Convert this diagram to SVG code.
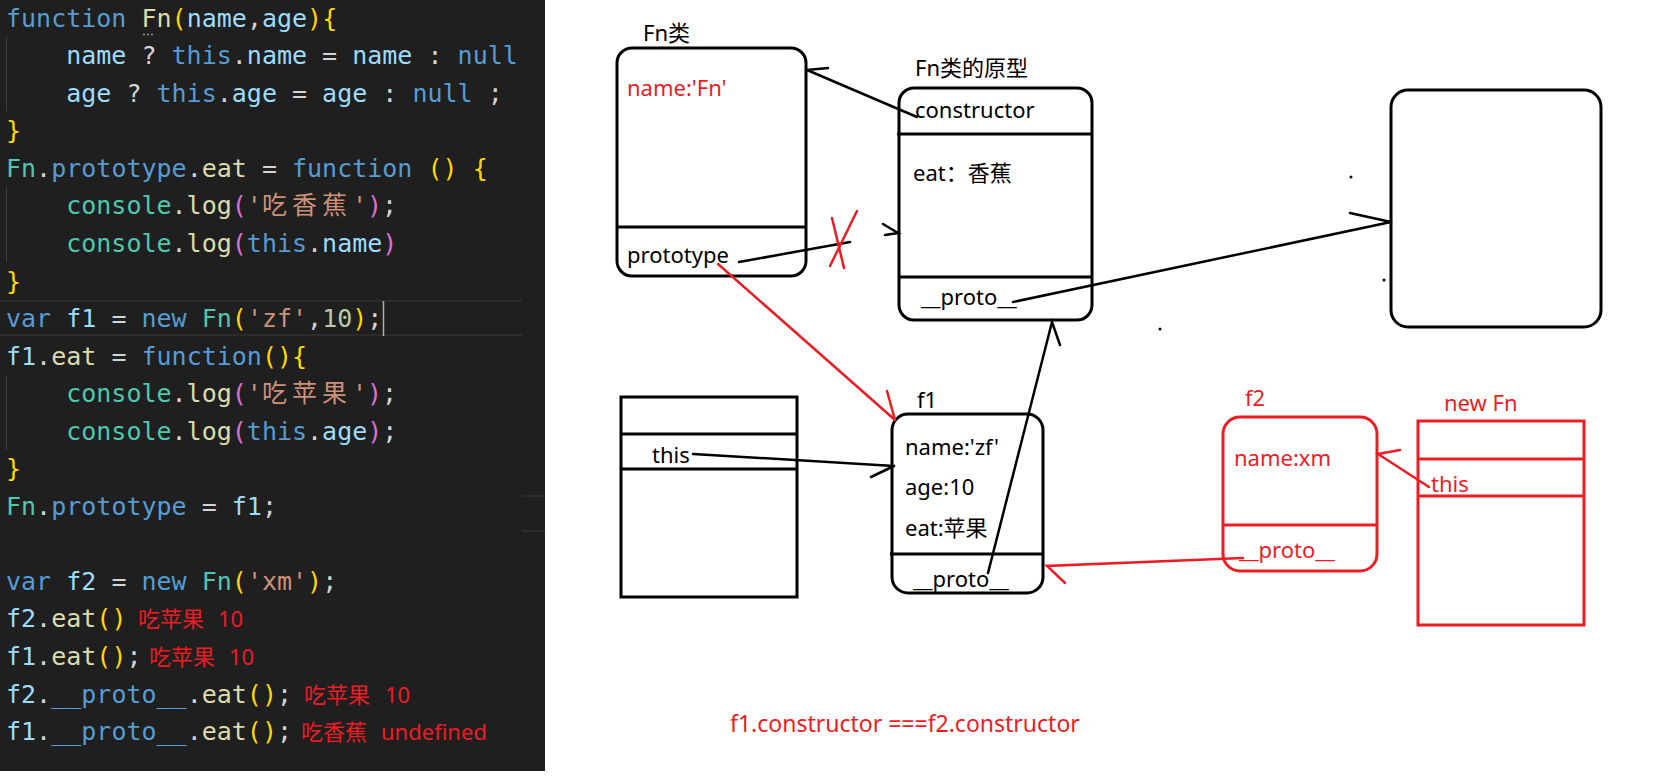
<svg xmlns="http://www.w3.org/2000/svg" width="1654" height="784" viewBox="0 0 1654 784">
<style>
.code{font-family:"DejaVu Sans Mono","Noto Sans CJK SC",monospace;font-size:25px;fill:#D4D4D4}
.k{fill:#569CD6}.v{fill:#9CDCFE}.f{fill:#DCDCAA}.c{fill:#4EC9B0}.s{fill:#CE9178}.n{fill:#B5CEA8}.y{fill:#FFD700}.m{fill:#DA70D6}
.z{letter-spacing:5px}
.note{font-family:"Noto Sans","Noto Sans CJK SC",sans-serif;font-size:22px;fill:#ED1C24}
.lbl{font-family:"Noto Sans","Noto Sans CJK SC",sans-serif;font-size:22px;fill:#000}
.red{fill:#ED1C24}
.box{fill:none;stroke:#000;stroke-width:3}
.rbox{fill:none;stroke:#ED1C24;stroke-width:3}
.ln{stroke:#000;stroke-width:2.5;fill:none;stroke-linecap:round}
.rln{stroke:#ED1C24;stroke-width:2.5;fill:none;stroke-linecap:round}
.guide{stroke:#404040;stroke-width:1}
</style>
<rect x="0" y="0" width="1654" height="784" fill="#fff"/>
<g id="code-panel">
<rect x="0" y="0" width="545" height="771" fill="#1F1F1F"/>
<line x1="0" y1="301" x2="522" y2="301" stroke="#2C2C2C" stroke-width="2"/>
<line x1="0" y1="335" x2="522" y2="335" stroke="#2C2C2C" stroke-width="2"/>
<line x1="522" y1="496" x2="545" y2="496" stroke="#2C2C2C" stroke-width="2"/>
<line x1="522" y1="531" x2="545" y2="531" stroke="#2C2C2C" stroke-width="2"/>
<line class="guide" x1="6.5" y1="37" x2="6.5" y2="111"/>
<line class="guide" x1="6.5" y1="187" x2="6.5" y2="262"/>
<line class="guide" x1="6.5" y1="375" x2="6.5" y2="450"/>
<line x1="383.5" y1="301" x2="383.5" y2="336" stroke="#AEAFAD" stroke-width="1.5"/>
<circle cx="144" cy="34.5" r="0.9" fill="#A0A0A0"/><circle cx="148" cy="34.5" r="0.9" fill="#A0A0A0"/><circle cx="152" cy="34.5" r="0.9" fill="#A0A0A0"/>
<text class="code" x="6" y="26.7"><tspan class="k">function</tspan> <tspan class="f">Fn</tspan><tspan class="y">(</tspan><tspan class="v">name</tspan>,<tspan class="v">age</tspan><tspan class="y">){</tspan></text>
<text class="code" x="66.2" y="64.2"><tspan class="v">name</tspan> ? <tspan class="k">this</tspan>.<tspan class="v">name</tspan> = <tspan class="v">name</tspan> : <tspan class="k">null</tspan></text>
<text class="code" x="66.2" y="101.8"><tspan class="v">age</tspan> ? <tspan class="k">this</tspan>.<tspan class="v">age</tspan> = <tspan class="v">age</tspan> : <tspan class="k">null</tspan> ;</text>
<text class="code y" x="6" y="139.3">}</text>
<text class="code" x="6" y="176.9"><tspan class="c">Fn</tspan>.<tspan class="k">prototype</tspan>.<tspan class="f">eat</tspan> = <tspan class="k">function</tspan> <tspan class="y">()</tspan> <tspan class="y">{</tspan></text>
<text class="code" x="66.2" y="214.4"><tspan class="c">console</tspan>.<tspan class="f">log</tspan><tspan class="m">(</tspan><tspan class="s">'</tspan><tspan class="s z">吃香蕉</tspan><tspan class="s">'</tspan><tspan class="m">)</tspan>;</text>
<text class="code" x="66.2" y="252"><tspan class="c">console</tspan>.<tspan class="f">log</tspan><tspan class="m">(</tspan><tspan class="k">this</tspan>.<tspan class="v">name</tspan><tspan class="m">)</tspan></text>
<text class="code y" x="6" y="289.5">}</text>
<text class="code" x="6" y="327"><tspan class="k">var</tspan> <tspan class="v">f1</tspan> = <tspan class="k">new</tspan> <tspan class="c">Fn</tspan><tspan class="y">(</tspan><tspan class="s">'zf'</tspan>,<tspan class="n">10</tspan><tspan class="y">)</tspan>;</text>
<text class="code" x="6" y="364.6"><tspan class="v">f1</tspan>.<tspan class="f">eat</tspan> = <tspan class="k">function</tspan><tspan class="y">(){</tspan></text>
<text class="code" x="66.2" y="402.1"><tspan class="c">console</tspan>.<tspan class="f">log</tspan><tspan class="m">(</tspan><tspan class="s">'</tspan><tspan class="s z">吃苹果</tspan><tspan class="s">'</tspan><tspan class="m">)</tspan>;</text>
<text class="code" x="66.2" y="439.7"><tspan class="c">console</tspan>.<tspan class="f">log</tspan><tspan class="m">(</tspan><tspan class="k">this</tspan>.<tspan class="v">age</tspan><tspan class="m">)</tspan>;</text>
<text class="code y" x="6" y="477.2">}</text>
<text class="code" x="6" y="514.8"><tspan class="c">Fn</tspan>.<tspan class="k">prototype</tspan> = <tspan class="v">f1</tspan>;</text>
<text class="code" x="6" y="589.9"><tspan class="k">var</tspan> <tspan class="v">f2</tspan> = <tspan class="k">new</tspan> <tspan class="c">Fn</tspan><tspan class="y">(</tspan><tspan class="s">'xm'</tspan><tspan class="y">)</tspan>;</text>
<text class="code" x="6" y="627.4"><tspan class="v">f2</tspan>.<tspan class="f">eat</tspan><tspan class="y">()</tspan></text>
<text class="code" x="6" y="665"><tspan class="v">f1</tspan>.<tspan class="f">eat</tspan><tspan class="y">()</tspan>;</text>
<text class="code" x="6" y="702.5"><tspan class="v">f2</tspan>.<tspan class="k">__proto__</tspan>.<tspan class="f">eat</tspan><tspan class="y">()</tspan>;</text>
<text class="code" x="6" y="740"><tspan class="v">f1</tspan>.<tspan class="k">__proto__</tspan>.<tspan class="f">eat</tspan><tspan class="y">()</tspan>;</text>
<text class="note" x="138" y="627.4">吃苹果<tspan x="218">10</tspan></text>
<text class="note" x="149" y="665">吃苹果<tspan x="229">10</tspan></text>
<text class="note" x="304" y="702.5">吃苹果<tspan x="385">10</tspan></text>
<text class="note" x="301" y="740">吃香蕉<tspan x="381">undefined</tspan></text>
</g>
<g id="node-fn">
<rect class="box" x="617" y="48" width="189" height="228" rx="15"/>
<line class="box" x1="617" y1="227" x2="806" y2="227"/>
<text class="lbl" x="643" y="41">Fn类</text>
<text class="lbl red" x="627" y="96">name:'Fn'</text>
<text class="lbl" x="627" y="263">prototype</text>
</g>
<g id="node-fn-prototype">
<rect class="box" x="899" y="88" width="193" height="232" rx="15"/>
<line class="box" x1="897" y1="134" x2="1092" y2="134"/>
<line class="box" x1="899" y1="277" x2="1092" y2="277"/>
<text class="lbl" x="915" y="76">Fn类的原型</text>
<text class="lbl" x="915" y="118">constructor</text>
<text class="lbl" x="913" y="181">eat：香蕉</text>
<text class="lbl" x="921" y="305">__proto__</text>
</g>
<g id="node-object">
<rect class="box" x="1391" y="90" width="210" height="237" rx="17"/>
</g>
<g id="node-stack">
<rect class="box" x="621" y="397" width="176" height="200"/>
<line class="box" x1="621" y1="434" x2="797" y2="434"/>
<line class="box" x1="621" y1="469" x2="797" y2="469"/>
<text class="lbl" x="652" y="463">this</text>
</g>
<g id="node-f1">
<rect class="box" x="892" y="414" width="151" height="179" rx="16"/>
<line class="box" x1="890" y1="554" x2="1043" y2="554"/>
<text class="lbl" x="917" y="408">f1</text>
<text class="lbl" x="905" y="455">name:'zf'</text>
<text class="lbl" x="905" y="495">age:10</text>
<text class="lbl" x="905" y="536">eat:苹果</text>
<text class="lbl" x="913" y="587">__proto__</text>
</g>
<g id="node-f2">
<rect class="rbox" x="1223" y="417" width="154" height="154" rx="17"/>
<line class="rbox" x1="1223" y1="525" x2="1377" y2="525"/>
<text class="lbl red" x="1245" y="406">f2</text>
<text class="lbl red" x="1234" y="466">name:xm</text>
<text class="lbl red" x="1239" y="558">__proto__</text>
</g>
<g id="node-new-fn">
<rect class="rbox" x="1418" y="421" width="166" height="204"/>
<line class="rbox" x1="1418" y1="459" x2="1584" y2="459"/>
<line class="rbox" x1="1418" y1="496" x2="1584" y2="496"/>
<text class="lbl red" x="1444" y="411">new Fn</text>
<text class="lbl red" x="1431" y="492">this</text>
</g>
<g id="connectors">
<polyline class="ln" points="917,117 807,70 828,68"/>
<line class="ln" x1="739" y1="262" x2="850" y2="242"/>
<polyline class="ln" points="883,224 898,233 885,235"/>
<line class="rln" x1="832" y1="218" x2="844" y2="268"/>
<line class="rln" x1="857" y1="211" x2="830" y2="266"/>
<line class="rln" x1="718" y1="264" x2="895" y2="420"/>
<line class="rln" x1="887" y1="391" x2="895" y2="420"/>
<line class="ln" x1="1013" y1="302" x2="1391" y2="222"/>
<line class="ln" x1="1350" y1="213" x2="1391" y2="222"/>
<line class="ln" x1="693" y1="454" x2="894" y2="466"/>
<line class="ln" x1="871" y1="477" x2="894" y2="466"/>
<polyline class="ln" points="988,573 1052,322 1060,345"/>
<polyline class="rln" points="1243,558 1047,566 1065,583"/>
<polyline class="rln" points="1429,487 1378,454 1400,450"/>
</g>
<g id="dots" fill="#000">
<circle cx="1351" cy="177" r="1.5"/>
<circle cx="1384" cy="280" r="1.5"/>
<circle cx="1160" cy="329" r="1.5"/>
</g>
<text class="note" x="730" y="732" style="font-size:23px">f1.constructor ===f2.constructor</text>
</svg>
